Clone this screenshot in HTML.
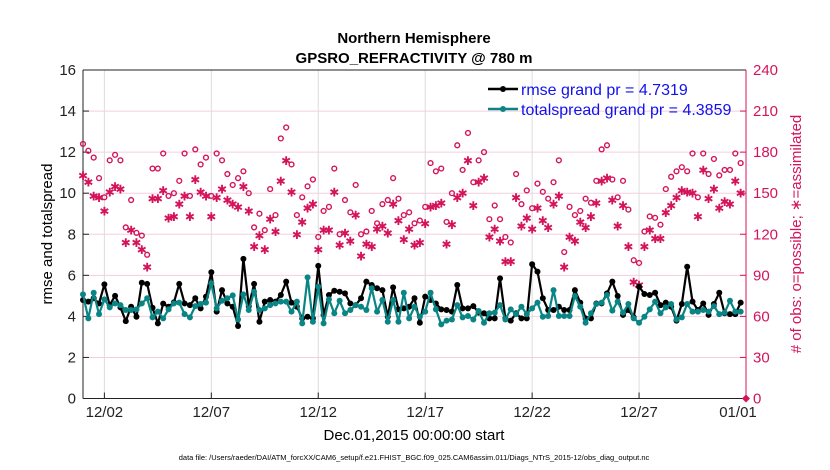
<!DOCTYPE html>
<html><head><meta charset="utf-8"><style>
body{margin:0;background:#fff;}
svg{display:block;font-family:"Liberation Sans",sans-serif;}
</style></head><body>
<svg id="chart" width="830" height="470" viewBox="0 0 830 470">
<rect width="830" height="470" fill="#fff"/>
<text x="414" y="43" text-anchor="middle" font-size="15" font-weight="bold">Northern Hemisphere</text>
<text x="414" y="63" text-anchor="middle" font-size="15" font-weight="bold">GPSRO_REFRACTIVITY @ 780 m</text>
<g id="grid"></g>
<g id="axes"></g>
<g id="marks"></g>
<g>
<line x1="488" y1="89" x2="518" y2="89" stroke="#000" stroke-width="2.5"/>
<circle cx="503" cy="89" r="3" fill="#000"/>
<text x="521" y="95" font-size="16" fill="#1111ee">rmse grand pr = 4.7319</text>
<line x1="488" y1="109" x2="518" y2="109" stroke="#0a8585" stroke-width="2.5"/>
<circle cx="503" cy="109" r="3" fill="#0a8585"/>
<text x="521" y="115" font-size="16" fill="#1111ee">totalspread grand pr = 4.3859</text>
</g>
<text transform="translate(52,234) rotate(-90)" text-anchor="middle" font-size="15">rmse and totalspread</text>
<text transform="translate(801,234) rotate(-90)" text-anchor="middle" font-size="15" fill="#d4145a"># of obs: o=possible; ∗=assimilated</text>
<text x="414" y="440" text-anchor="middle" font-size="15">Dec.01,2015 00:00:00 start</text>
<text x="414" y="460" text-anchor="middle" font-size="7.5">data file: /Users/raeder/DAI/ATM_forcXX/CAM6_setup/f.e21.FHIST_BGC.f09_025.CAM6assim.011/Diags_NTrS_2015-12/obs_diag_output.nc</text>
</svg>
<script>
const xTickLabels=["12/02","12/07","12/12","12/17","12/22","12/27","01/01"];
const xTickDays=[1,6,11,16,21,26,31];
const yTicks=[0,2,4,6,8,10,12,14,16];
const y2Ticks=[0,30,60,90,120,150,180,210,240];
const rmse=[4.8,4.72,4.88,4.63,5.56,4.55,5.0,4.44,3.77,4.47,3.98,5.64,5.58,4.42,3.66,4.62,4.47,4.68,5.58,4.63,4.55,4.88,4.39,4.96,6.15,4.23,5.28,4.63,4.47,3.53,6.8,4.5,5.58,3.74,4.72,4.8,4.72,5.04,5.69,4.67,4.47,3.9,3.98,3.9,6.46,4.07,5.04,5.25,5.2,5.12,4.63,4.55,4.88,5.69,5.53,5.37,5.28,3.98,5.41,4.34,4.39,4.47,4.88,3.69,4.96,4.8,4.63,4.34,4.31,4.23,5.53,4.39,4.39,4.5,4.18,4.15,3.9,3.9,5.85,3.9,3.79,4.15,3.9,3.9,6.54,6.18,4.88,4.31,4.31,4.47,4.31,4.31,5.28,4.67,3.9,3.9,4.63,4.63,5.12,5.69,4.99,4.07,4.31,3.95,5.45,5.09,5.04,5.15,4.55,4.67,4.47,3.79,4.6,6.42,4.72,4.31,4.63,4.07,4.6,5.15,4.15,4.11,4.11,4.67];
const spread=[5.07,3.9,5.15,4.11,4.83,4.44,4.63,4.55,4.31,4.31,4.34,4.63,4.88,3.95,4.23,3.9,4.34,4.63,4.67,4.11,3.95,4.5,4.6,4.67,5.61,4.39,4.76,4.88,5.02,3.85,5.07,4.31,5.2,4.31,4.39,4.55,4.63,4.72,4.72,4.23,4.72,3.66,5.9,3.74,5.45,3.66,4.83,4.15,4.76,4.15,4.31,4.55,4.47,4.31,5.37,4.23,4.8,3.74,4.8,3.74,5.15,3.9,4.47,3.98,4.23,5.15,4.34,3.61,3.79,3.85,4.55,3.95,4.02,3.85,4.26,3.69,4.15,4.18,4.55,3.85,4.34,4.11,4.47,4.11,4.39,4.67,3.98,4.02,5.28,4.02,4.02,4.02,4.99,4.47,3.69,4.15,4.6,4.67,5.04,4.28,4.72,4.18,4.6,3.9,3.69,3.98,4.34,4.72,4.15,4.44,4.6,3.85,3.95,4.6,4.23,4.23,4.31,4.23,4.5,4.11,4.18,4.76,4.23,4.23];
const possible=[186,181,176,161,147,174,178,174,125,145,121,119,105,168,168,179,148,150,159,179,148,182,171,176,148,179,174,164,156,161,166,150,125,135,123,153,134,190,198,171,134,147,155,160,118,137,140,168,120,145,136,156,120,122,137,128,142,145,161,146,134,136,128,130,140,172,166,168,129,150,185,167,194,158,174,180,131,141,131,118,114,164,142,152,139,157,151,146,158,174,107,140,134,137,146,143,159,182,185,160,147,159,138,101,99,122,133,132,127,153,162,166,169,166,179,147,179,164,175,163,167,167,179,172];
const assimilated=[163,158,148,147,137,151,155,153,114,123,114,109,96,146,146,152,132,133,142,148,133,160,151,148,133,147,153,145,142,140,155,137,111,119,109,131,122,159,174,151,120,129,139,142,109,123,123,151,112,121,115,134,104,113,111,124,126,121,142,130,116,124,112,114,128,140,141,143,113,127,147,150,174,141,158,161,118,124,115,100,100,147,126,132,124,139,130,125,142,148,96,118,115,129,125,133,143,159,161,145,126,141,111,85,83,111,123,117,117,136,141,147,152,151,150,133,167,146,153,139,144,142,159,150];
const stepDays=0.25;
const L=83,R=746,T=70,B=398.5,NS="http://www.w3.org/2000/svg";
const xS=d=>L+(R-L)*d/31;
const yS=v=>B-(B-T)*v/16;
const y2S=v=>B-(B-T)*v/240;
function mk(tag,attrs,parent){const e=document.createElementNS(NS,tag);for(const k in attrs)e.setAttribute(k,attrs[k]);parent.appendChild(e);return e;}
const grid=document.getElementById('grid'),axes=document.getElementById('axes'),marks=document.getElementById('marks');
yTicks.forEach((v,i)=>{if(v===0||v===16)return;
 const g=mk('line',{x1:L,x2:R,y1:yS(v),y2:yS(v),stroke:'#f3cfe0','stroke-width':1},grid);
 
 });
xTickDays.forEach((d,i)=>{
 if(d<31){const g=mk('line',{x1:xS(d),x2:xS(d),y1:T,y2:B,stroke:'#dcdcdc','stroke-width':1},grid);
 
 }
 const t=mk('line',{x1:xS(d),x2:xS(d),y1:B,y2:B-6,stroke:'#222'},axes);
 
 
 const lb=mk('text',{x:xS(d)-(d===31?8:0),y:417,'text-anchor':'middle','font-size':15,fill:'#222'},axes);
 lb.textContent=xTickLabels[i];
 
 });
yTicks.forEach(v=>{
 const t=mk('line',{x1:L,x2:L+6,y1:yS(v),y2:yS(v),stroke:'#222'},axes);
 
 
 const lb=mk('text',{x:L-7,y:yS(v)+5,'text-anchor':'end','font-size':15,fill:'#222'},axes);
 lb.textContent=v;
 
 });
y2Ticks.forEach(v=>{
 const t=mk('line',{x1:R,x2:R-6,y1:y2S(v),y2:y2S(v),stroke:'#d4145a'},axes);
 
 
 const lb=mk('text',{x:R+7,y:y2S(v)+5,'font-size':15,fill:'#d4145a'},axes);
 lb.textContent=v;
 
 });
const topL=mk('line',{x1:L,x2:R,y1:T,y2:T,stroke:'#222'},axes);


const lAx=mk('line',{x1:L,x2:L,y1:T,y2:B,stroke:'#222'},axes);


const bAx=mk('line',{x1:L,x2:R,y1:B,y2:B,stroke:'#222'},axes);


const rAx=mk('line',{x1:R,x2:R,y1:T,y2:B,stroke:'#d4145a'},axes);


possible.forEach((v,i)=>{
 const c=mk('circle',{cx:xS(i*stepDays),cy:y2S(v),r:2.4,fill:'none',stroke:'#d4145a','stroke-width':1.4},marks);
 
 });
assimilated.forEach((v,i)=>{
 const t=mk('text',{x:xS(i*stepDays),y:y2S(v)+4.5,'text-anchor':'middle','font-size':12,fill:'#d4145a'},marks);
 t.textContent='✱';
 
 });
const dm=mk('path',{d:`M${R-4} ${B} L${R} ${B-4} L${R+4} ${B} L${R} ${B+4}Z`,fill:'#d4145a'},marks);


function series(arr,color,name){
 const pts=arr.map((v,i)=>xS(i*stepDays).toFixed(1)+','+yS(v).toFixed(1)).join(' ');
 const pl=mk('polyline',{points:pts,fill:'none',stroke:color,'stroke-width':2.2,'stroke-linejoin':'round'},marks);
 
 
 arr.forEach((v,i)=>{const c=mk('circle',{cx:xS(i*stepDays),cy:yS(v),r:3,fill:color},marks);
 
 });
}
series(rmse,'#000','rmse');
series(spread,'#0a8585','totalspread');
</script>
</body></html>
